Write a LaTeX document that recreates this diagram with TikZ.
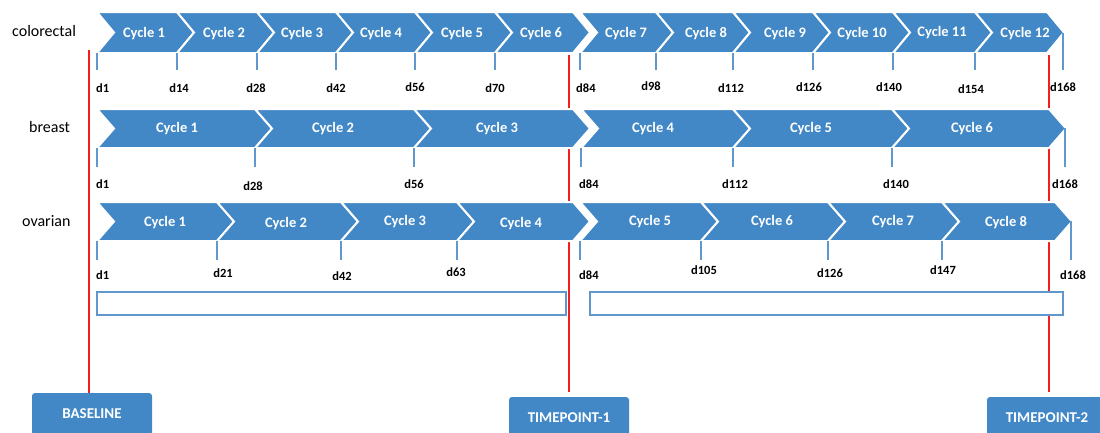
\documentclass[tikz,border=0pt]{standalone}
\usepackage{fontspec}
\setmainfont{Carlito}
\definecolor{chev}{RGB}{66,136,198}
\definecolor{tickc}{RGB}{96,152,206}
\definecolor{redc}{RGB}{245,30,30}
\newcommand\chevron[5]{%
  \draw[chevshape] (#1,#3) -- (#2,#3) -- ({#2+17},{(#3+#4)/2}) -- (#2,#4) -- (#1,#4) -- ({#1+17},{(#3+#4)/2}) -- cycle;}
\begin{document}
\begin{tikzpicture}[x=1pt,y=-1pt,
  chevshape/.style={fill=chev,draw=white,line width=2pt,line join=miter},
  cyc/.style={text=white,font=\bfseries\fontsize{14.5}{15}\selectfont,inner sep=0pt,text height=9.5pt,text depth=0pt},
  day/.style={font=\bfseries\fontsize{12.5}{13}\selectfont,inner sep=0pt,text height=9pt,text depth=0pt},
  rowlab/.style={font=\fontsize{16}{16}\selectfont,inner sep=0pt,anchor=west,text height=11pt,text depth=0pt},
  tickline/.style={draw=tickc,line width=1.3pt},
  redline/.style={draw=redc,line width=1.3pt},
  spanbox/.style={draw=tickc,line width=1.2pt,fill=white},
  tpbox/.style={fill=chev,rounded corners=3pt,text=white,font=\bfseries\fontsize{15}{15}\selectfont,minimum width=120pt,minimum height=42pt,inner sep=0pt}]
\useasboundingbox (0,0) rectangle (1100,432);
\clip (0,0) rectangle (1100,432);

% boxes at the bottom
\node[tpbox] (base) at (92,414) {BASELINE};
\node[tpbox] (tp1) at (569,418) {TIMEPOINT-1};
\node[tpbox] (tp2) at (1047,418) {TIMEPOINT-2};

% red lines
\coordinate (r0) at (89,50);
\coordinate (r1) at (569,55);
\coordinate (r2) at (1049,55);
\draw[redline] (r0) -- (r0 |- base.north);
\draw[redline,shorten >=5pt] (r1) -- (r1 |- tp1.north);
\draw[redline,shorten >=5pt] (r2) -- (r2 |- tp2.north);

% row labels
\node[rowlab] (lcol) at (12,31) {colorectal};
\node[rowlab] (lbre) at (29,127) {breast};
\node[rowlab] (lova) at (22,221) {ovarian};

% ---------------- colorectal ----------------
\chevron{97}{177}{12}{53}{}
\chevron{177}{257}{12}{53}{}
\chevron{257}{336}{12}{53}{}
\chevron{336}{415}{12}{53}{}
\chevron{415}{495}{12}{53}{}
\chevron{495}{573}{12}{53}{}
\chevron{580}{656}{12}{53}{}
\chevron{656}{733}{12}{53}{}
\chevron{733}{813}{12}{53}{}
\chevron{813}{893}{12}{53}{}
\chevron{893}{975}{12}{53}{}
\chevron{975}{1047}{12}{53}{}
\node[cyc] (cc1) at (144,33) {Cycle 1};
\node[cyc] (cc2) at (224,33) {Cycle 2};
\node[cyc] (cc3) at (302,33) {Cycle 3};
\node[cyc] (cc4) at (381,33) {Cycle 4};
\node[cyc] (cc5) at (462,33) {Cycle 5};
\node[cyc] (cc6) at (541,33) {Cycle 6};
\node[cyc] (cc7) at (626,33) {Cycle 7};
\node[cyc] (cc8) at (706,33) {Cycle 8};
\node[cyc] (cc9) at (785,33) {Cycle 9};
\node[cyc] (cc10) at (862,33) {Cycle 10};
\node[cyc] (cc11) at (942,32) {Cycle 11};
\node[cyc] (cc12) at (1025,33) {Cycle 12};
\foreach \x in {97,177,257,336,415,495,580,656,733,813,893,975}
  \draw[tickline] (\x,53) -- (\x,70);
\draw[tickline] (1063,33) -- (1063,70);
\node[day,anchor=west] (cd1) at (96,88) {d1};
\node[day] (cd14) at (179,88) {d14};
\node[day] (cd28) at (256,88) {d28};
\node[day] (cd42) at (336,88) {d42};
\node[day] (cd56) at (415,87) {d56};
\node[day] (cd70) at (495,88) {d70};
\node[day,anchor=west] (cd84) at (576,88) {d84};
\node[day] (cd98) at (651,86) {d98};
\node[day] (cd112) at (731,88) {d112};
\node[day] (cd126) at (809,87) {d126};
\node[day] (cd140) at (889,87) {d140};
\node[day] (cd154) at (971,89) {d154};
\node[day,anchor=west] (cd168) at (1050,87) {d168};

% ---------------- breast ----------------
\chevron{97}{255}{109}{148}{}
\chevron{255}{414}{109}{148}{}
\chevron{414}{573}{109}{148}{}
\chevron{581}{733}{109}{148}{}
\chevron{733}{892}{109}{148}{}
\chevron{892}{1049}{109}{148}{}
\node[cyc] (bc1) at (177,128) {Cycle 1};
\node[cyc] (bc2) at (333,128) {Cycle 2};
\node[cyc] (bc3) at (497,128) {Cycle 3};
\node[cyc] (bc4) at (653,128) {Cycle 4};
\node[cyc] (bc5) at (811,128) {Cycle 5};
\node[cyc] (bc6) at (972,128) {Cycle 6};
\foreach \x in {97,255,414,581,733,892}
  \draw[tickline] (\x,148) -- (\x,167);
\draw[tickline] (1065,128) -- (1065,167);
\node[day,anchor=west] (bd1) at (96,184) {d1};
\node[day] (bd28) at (253,186) {d28};
\node[day] (bd56) at (414,184) {d56};
\node[day,anchor=west] (bd84) at (579,184) {d84};
\node[day] (bd112) at (735,184) {d112};
\node[day] (bd140) at (896,184) {d140};
\node[day] (bd168) at (1065,184) {d168};

% ---------------- ovarian ----------------
\chevron{97}{217}{202}{241}{}
\chevron{217}{341}{202}{241}{}
\chevron{341}{457}{202}{241}{}
\chevron{457}{573}{202}{241}{}
\chevron{580}{701}{202}{241}{}
\chevron{701}{828}{202}{241}{}
\chevron{828}{942}{202}{241}{}
\chevron{942}{1055}{202}{241}{}
\node[cyc] (oc1) at (165,222) {Cycle 1};
\node[cyc] (oc2) at (286,223) {Cycle 2};
\node[cyc] (oc3) at (405,221) {Cycle 3};
\node[cyc] (oc4) at (521,223) {Cycle 4};
\node[cyc] (oc5) at (650,221) {Cycle 5};
\node[cyc] (oc6) at (772,221) {Cycle 6};
\node[cyc] (oc7) at (893,221) {Cycle 7};
\node[cyc] (oc8) at (1006,222) {Cycle 8};
\foreach \x in {97,217,341,457,580,701,828,942}
  \draw[tickline] (\x,241) -- (\x,260);
\draw[tickline] (1071,221) -- (1071,260);
\node[day,anchor=west] (od1) at (96,275) {d1};
\node[day] (od21) at (223,273) {d21};
\node[day] (od42) at (342,276) {d42};
\node[day] (od63) at (456,272) {d63};
\node[day,anchor=west] (od84) at (579,275) {d84};
\node[day] (od105) at (704,270) {d105};
\node[day] (od126) at (830,273) {d126};
\node[day] (od147) at (943,270) {d147};
\node[day] (od168) at (1073,275) {d168};

% span boxes
\draw[spanbox] (97,292) rectangle (566,315);
\draw[spanbox] (590,292) rectangle (1063,315);
\end{tikzpicture}
\end{document}
